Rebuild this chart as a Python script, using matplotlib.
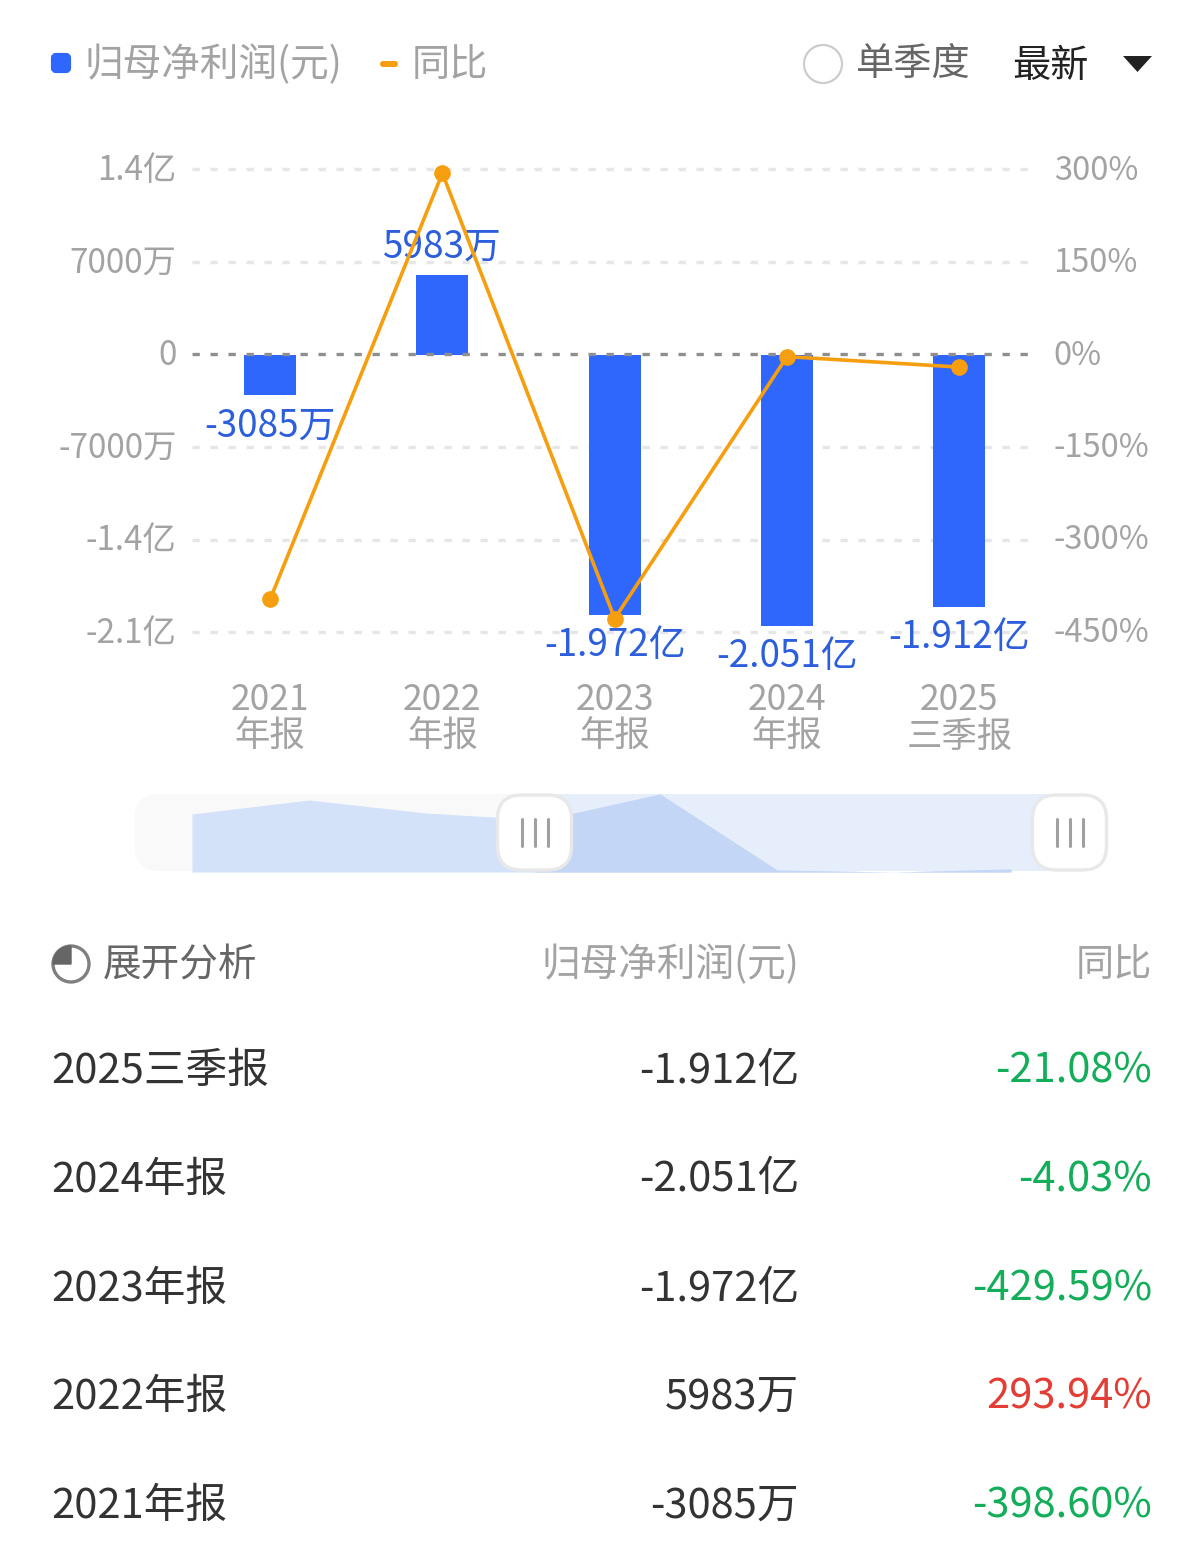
import matplotlib
matplotlib.use("Agg")
import matplotlib.pyplot as plt
from matplotlib.patches import Circle, FancyBboxPatch, Polygon, Rectangle, Wedge
from matplotlib.transforms import ScaledTranslation

plt.rcParams['font.family'] = ['Noto Sans CJK SC', 'DejaVu Sans']

# chart data
periods = ['2021\n年报', '2022\n年报', '2023\n年报', '2024\n年报', '2025\n三季报']
profit = [-3085, 5983, -19720, -20510, -19120]  # 万元
profit_labels = ['-3085万', '5983万', '-1.972亿', '-2.051亿', '-1.912亿']
yoy = [-398.60, 293.94, -429.59, -4.03, -21.08]

left_ticks = [14000, 7000, 0, -7000, -14000, -21000]
left_labels = ['1.4亿', '7000万', '0', '-7000万', '-1.4亿', '-2.1亿']
right_ticks = [300, 150, 0, -150, -300, -450]
right_labels = ['300%', '150%', '0%', '-150%', '-300%', '-450%']

# slider preview, relative height
preview = [58, 72, 59, 52, 78, 2, 0, 3]

# table
rows = ['2025三季报', '2024年报', '2023年报', '2022年报', '2021年报']
row_profit = ['-1.912亿', '-2.051亿', '-1.972亿', '5983万', '-3085万']
row_yoy = ['-21.08%', '-4.03%', '-429.59%', '293.94%', '-398.60%']

BLUE = '#2f66fb'
ORANGE = '#f59e0f'
GRAY = '#a3a3a3'
GREEN = '#14ad5a'
RED = '#e33e36'
W, H = 1200, 1568

fig = plt.figure(figsize=(12, 15.68), dpi=100, facecolor='white')


def px_axes(x0, y0, x1, y1, z):
    return fig.add_axes([x0 / W, 1 - y1 / H, (x1 - x0) / W, (y1 - y0) / H], zorder=z)


def overlay(z):
    a = fig.add_axes([0, 0, 1, 1], zorder=z)
    a.set_xlim(0, W)
    a.set_ylim(H, 0)
    a.axis('off')
    a.patch.set_alpha(0)
    return a


bg = overlay(0)
fg = overlay(3)

# legend and top row
fg.add_patch(FancyBboxPatch((53, 55), 16, 16, boxstyle='round,pad=0,rounding_size=3',
                            mutation_aspect=1, fc=BLUE, ec=BLUE, lw=3))
fg.text(84, 65, '归母净利润(元)', fontsize=27.8, color=GRAY, va='center')
fg.add_patch(FancyBboxPatch((380, 61), 18, 6, boxstyle='round,pad=0,rounding_size=3', fc=ORANGE, ec='none'))
fg.text(412, 65, '同比', fontsize=27.5, color=GRAY, va='center')
fg.add_patch(Circle((823, 64), 19, fc='white', ec='#cccccc', lw=1.6))
fg.text(856, 65, '单季度', fontsize=27.5, color='#666666', va='center')
fg.text(1012, 66, '最新', fontsize=27.5, color='#222222', va='center')
fg.add_patch(Polygon([(1123, 56), (1152, 56), (1137.5, 72)], fc='#222222', ec='none'))

# main chart
ax = px_axes(192, 169.5, 1030, 632, 1)
x = list(range(len(periods)))
ax.set_xlim(-0.453, 4.41)
ax.set_ylim(-21000, 14000)
ax.patch.set_alpha(0)
for s in ax.spines.values():
    s.set_visible(False)
ax.bar(x, profit, width=0.302, color=BLUE, linewidth=0, zorder=3)
for t in left_ticks:
    ax.axhline(t + 40 if t == 0 else t, color='#8f8f8f' if t == 0 else '#e6e6e6', lw=2.4,
               dashes=(2.2, 3.2), zorder=4 if t == 0 else 1, clip_on=False)
ax.set_yticks(left_ticks, left_labels)
ax.set_xticks(x, periods, linespacing=1.02)
ax.tick_params(axis='y', length=0, pad=11, labelsize=24, labelcolor=GRAY)
ax.tick_params(axis='x', length=0, pad=36, labelsize=25.5, labelcolor=GRAY)
up = ScaledTranslation(0, 3 / 72 * 72 / 100, fig.dpi_scale_trans)
for lb in ax.get_yticklabels():
    lb.set_transform(lb.get_transform() + up)
for i, v in enumerate(profit):
    ax.annotate(profit_labels[i], (i, v), xytext=(0, 20 if v > 0 else -22), textcoords='offset points',
                ha='center', va='center', fontsize=26.5, color='#2d5fdc', zorder=5)

ax2 = ax.twinx()
ax2.set_zorder(2)
ax2.patch.set_alpha(0)
ax2.set_ylim(-451.5, 298.5)
for s in ax2.spines.values():
    s.set_visible(False)
ax2.set_yticks(right_ticks, right_labels)
ax2.tick_params(axis='y', length=0, pad=17, labelsize=23.5, labelcolor=GRAY)
up2 = ScaledTranslation(0, 2 / 100, fig.dpi_scale_trans)
for lb in ax2.get_yticklabels():
    lb.set_transform(lb.get_transform() + up2)
ax2.plot(x, yoy, color=ORANGE, lw=2.6, marker='o', ms=11, clip_on=False)

# slider
bg.add_patch(FancyBboxPatch((135, 794), 973, 77, boxstyle='round,pad=0,rounding_size=24', fc='#f9f9f9', ec='none'))
bg.add_patch(Rectangle((535, 794), 535, 77, fc='#e6eefb', ec='none'))

ov = px_axes(192, 794, 1011, 872, 1)
ov.axis('off')
ov.patch.set_alpha(0)
ov.set_xlim(0, len(preview) - 1)
ov.set_ylim(0, max(preview))
xs = list(range(len(preview)))
ov.fill_between(xs, preview, 0, color='#d3e1f9', lw=0)
inner = ov.fill_between(xs, preview, 0, color='#c3d6f6', lw=0)
inner.set_clip_path(Rectangle((2.93, 0), 5, 80, transform=ov.transData))

for cx in (534.5, 1069.5):
    fg.add_patch(FancyBboxPatch((cx - 37, 795), 74, 75, boxstyle='round,pad=0,rounding_size=24',
                                fc='white', ec='#e8e8e8', lw=2.4))
    for dx in (-13, 0, 13):
        fg.plot([cx + dx, cx + dx], [819, 846], color='#a0a0a0', lw=2.2, solid_capstyle='round')

# table header
fg.add_patch(Circle((71, 964), 18, fc='none', ec='#808080', lw=2.4))
fg.add_patch(Wedge((71, 964), 18, 180, 270, fc='#666666', ec='#666666'))
fg.text(103, 965, '展开分析', fontsize=27.8, color='#666666', va='center')
fg.text(799, 965, '归母净利润(元)', fontsize=27.8, color=GRAY, va='center', ha='right')
fg.text(1152, 965, '同比', fontsize=27.5, color=GRAY, va='center', ha='right')

# table rows
for i, y in enumerate([1071, 1180, 1289, 1397, 1506]):
    fg.text(51, y, rows[i], fontsize=30, color='#333333', va='center')
    fg.text(799, y, row_profit[i], fontsize=30, color='#333333', va='center', ha='right')
    c = GREEN if row_yoy[i].startswith('-') else RED
    fg.text(1152, y, row_yoy[i], fontsize=30, color=c, va='center', ha='right')

fig.savefig('out.png', dpi=100)
